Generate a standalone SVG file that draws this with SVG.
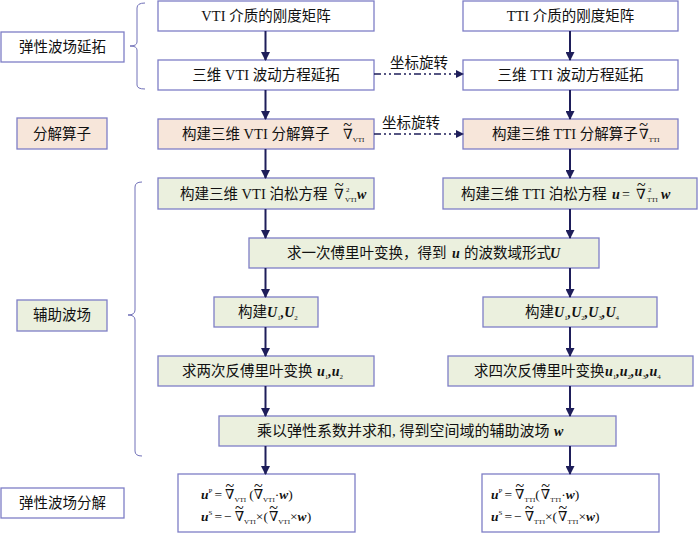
<svg xmlns="http://www.w3.org/2000/svg" width="700" height="534" viewBox="0 0 700 534">
<defs>
<marker id="ah" markerUnits="userSpaceOnUse" markerWidth="9" markerHeight="9" refX="8" refY="4.5" orient="auto"><path d="M0,0 L9,4.5 L0,9 z" fill="#1E1E5A"/></marker>
<marker id="ahs" markerUnits="userSpaceOnUse" markerWidth="8" markerHeight="8" refX="7" refY="4" orient="auto"><path d="M0,0 L8,4 L0,8 z" fill="#1E1E5A"/></marker>
<style>
.b{stroke:#7E7EC6;stroke-width:1.3}
.w{fill:#FFFFFF}
.g{fill:#EBF0DE}
.p{fill:#F7E6DA}
.t{font-family:"Liberation Serif","Noto Sans CJK SC",serif;font-size:14.5px;fill:#111}
.m{font-family:"Liberation Serif","DejaVu Serif",serif;font-size:14px;fill:#111}
.f{font-family:"Liberation Serif","DejaVu Serif",serif;font-size:13.5px;fill:#111}
.bi{font-weight:bold;font-style:italic}
.s{font-size:7px;font-weight:normal;font-style:normal}
.tl{font-family:"Liberation Serif",serif;font-size:16px;font-weight:normal;font-style:normal}
.c{fill:none;stroke:#1E1E5A;stroke-width:2}
.d{fill:none;stroke:#1E1E5A;stroke-width:1.6;stroke-dasharray:7 3 2 3 2 3}
.br{fill:none;stroke:#7070B8;stroke-width:1}
</style>
</defs>
<rect width="700" height="534" fill="#FFFFFF"/>

<g id="braces">
<path class="br" d="M145,3 Q137,3 137,8 L137,42 Q137,46 130,46 Q137,46 137,50 L137,85 Q137,89 145,89"/>
<path class="br" d="M142,182 Q135,182 135,187 L135,310 Q135,315 128,315 Q135,315 135,320 L135,451 Q135,456 142,456"/>
</g>

<g id="label-extension"><rect class="b w" x="1" y="32" width="123" height="30"/><text class="t" x="62.5" y="52" text-anchor="middle">弹性波场延拓</text></g>
<g id="label-operator"><rect class="b p" x="17" y="118" width="90" height="31"/><text class="t" x="62" y="139" text-anchor="middle">分解算子</text></g>
<g id="label-aux"><rect class="b g" x="17" y="300" width="90" height="31"/><text class="t" x="62" y="320" text-anchor="middle">辅助波场</text></g>
<g id="label-decomp"><rect class="b w" x="1" y="488" width="123" height="30"/><text class="t" x="62.5" y="508" text-anchor="middle">弹性波场分解</text></g>

<g id="vti-stiffness"><rect class="b w" x="158" y="1" width="216" height="30"/><text class="t" x="266" y="21" text-anchor="middle">VTI 介质的刚度矩阵</text></g>
<g id="tti-stiffness"><rect class="b w" x="463" y="1" width="215" height="30"/><text class="t" x="570.5" y="21" text-anchor="middle">TTI 介质的刚度矩阵</text></g>
<g id="vti-wave"><rect class="b w" x="158" y="60" width="216" height="30"/><text class="t" x="266" y="80" text-anchor="middle">三维 VTI 波动方程延拓</text></g>
<g id="tti-wave"><rect class="b w" x="463" y="60" width="215" height="30"/><text class="t" x="570.5" y="80" text-anchor="middle">三维 TTI 波动方程延拓</text></g>

<g id="vti-operator"><rect class="b p" x="158" y="119" width="216" height="30"/>
<text class="t" x="182" y="139">构建三维 VTI 分解算子</text>
<text class="m" x="343" y="139">∇<tspan class="tl" dx="-9.5" dy="-9">~</tspan><tspan class="s" dx="0.84" dy="12">VTI</tspan></text></g>
<g id="tti-operator"><rect class="b p" x="463" y="119" width="215" height="30"/>
<text class="t" x="492" y="139">构建三维 TTI 分解算子</text>
<text class="m" x="639" y="139">∇<tspan class="tl" dx="-9.5" dy="-9">~</tspan><tspan class="s" dx="0.84" dy="12">TTI</tspan></text></g>

<g id="vti-poisson"><rect class="b g" x="158" y="178" width="216" height="31"/>
<text class="t" x="180" y="199">构建三维 VTI 泊松方程</text>
<text class="m" x="334" y="199">∇<tspan class="tl" x="335" dy="-9">~</tspan><tspan class="s" x="346" dy="2">2</tspan><tspan class="s" x="345" dy="10">VTI</tspan><tspan class="bi" x="357" dy="-3">w</tspan></text></g>
<g id="tti-poisson"><rect class="b g" x="443" y="178" width="254" height="31"/>
<text class="t" x="461" y="199">构建三维 TTI 泊松方程</text>
<text class="m" x="612" y="199"><tspan class="bi">u</tspan><tspan x="622">=</tspan><tspan x="636">∇</tspan><tspan class="tl" x="637" dy="-9">~</tspan><tspan class="s" x="648" dy="2">2</tspan><tspan class="s" x="647" dy="10">TTI</tspan><tspan class="bi" x="661" dy="-3">w</tspan></text></g>

<g id="fourier"><rect class="b g" x="249" y="238" width="350" height="30"/>
<text class="t" x="287" y="258">求一次傅里叶变换，得到</text><text class="m bi" x="452" y="258">u</text><text class="t" x="464" y="258">的波数域形式</text><text class="m bi" x="550" y="258">U</text></g>

<g id="vti-u"><rect class="b g" x="214" y="297" width="104" height="30"/>
<text class="t" x="238" y="317">构建</text>
<text class="m bi" x="267" y="317">U<tspan class="s" dy="3">1</tspan><tspan dy="-3">,</tspan>U<tspan class="s" dy="3">2</tspan></text></g>
<g id="tti-u"><rect class="b g" x="483" y="297" width="174" height="30"/>
<text class="t" x="525" y="317">构建</text>
<text class="m bi" x="554" y="317">U<tspan class="s" dy="3">1</tspan><tspan dy="-3">,</tspan>U<tspan class="s" dy="3">2</tspan><tspan dy="-3">,</tspan>U<tspan class="s" dy="3">3</tspan><tspan dy="-3">,</tspan>U<tspan class="s" dy="3">4</tspan></text></g>

<g id="vti-inverse"><rect class="b g" x="158" y="356" width="216" height="30"/>
<text class="t" x="182" y="376">求两次反傅里叶变换</text>
<text class="m bi" x="317" y="376">u<tspan class="s" dy="3">1</tspan><tspan dy="-3">,</tspan>u<tspan class="s" dy="3">2</tspan></text></g>
<g id="tti-inverse"><rect class="b g" x="448" y="356" width="245" height="30"/>
<text class="t" x="474" y="376">求四次反傅里叶变换</text>
<text class="m bi" x="605" y="376">u<tspan class="s" dy="3">1</tspan><tspan dy="-3">,</tspan>u<tspan class="s" dy="3">2</tspan><tspan dy="-3">,</tspan>u<tspan class="s" dy="3">3</tspan><tspan dy="-3">,</tspan>u<tspan class="s" dy="3">4</tspan></text></g>

<g id="aux-field"><rect class="b g" x="219" y="416" width="397" height="30"/>
<text class="t" x="257" y="436" style="font-size:15px">乘以弹性系数并求和, 得到空间域的辅助波场</text><text class="m bi" x="554" y="436">w</text></g>

<g id="vti-decomp"><rect class="b w" x="178" y="474" width="177" height="58"/>
<text class="f" x="201" y="499"><tspan class="bi">u</tspan><tspan class="s" dy="-6">P</tspan><tspan dy="6" dx="2">=</tspan><tspan dx="3">∇</tspan><tspan class="tl" dx="-9" dy="-8.5">~</tspan><tspan class="s" dx="0.34" dy="11">VTI</tspan><tspan dy="-2.5" dx="3">(∇</tspan><tspan class="tl" dx="-9" dy="-8.5">~</tspan><tspan class="s" dx="0.34" dy="11">VTI</tspan><tspan dy="-2.5">·</tspan><tspan class="bi">w</tspan>)</text>
<text class="f" x="201" y="521"><tspan class="bi">u</tspan><tspan class="s" dy="-6">S</tspan><tspan dy="6" dx="2">=</tspan><tspan dx="2">−</tspan><tspan dx="3">∇</tspan><tspan class="tl" dx="-9" dy="-8.5">~</tspan><tspan class="s" dx="0.34" dy="11">VTI</tspan><tspan dy="-2.5">×(</tspan><tspan dx="1">∇</tspan><tspan class="tl" dx="-9" dy="-8.5">~</tspan><tspan class="s" dx="0.34" dy="11">VTI</tspan><tspan dy="-2.5">×</tspan><tspan class="bi">w</tspan>)</text></g>

<g id="tti-decomp"><rect class="b w" x="482" y="474" width="177" height="58"/>
<text class="f" x="491" y="499"><tspan class="bi">u</tspan><tspan class="s" dy="-6">P</tspan><tspan dy="6" dx="2">=</tspan><tspan dx="3">∇</tspan><tspan class="tl" dx="-9" dy="-8.5">~</tspan><tspan class="s" dx="0.34" dy="11">TTI</tspan><tspan dy="-2.5">(</tspan><tspan dx="1">∇</tspan><tspan class="tl" dx="-9" dy="-8.5">~</tspan><tspan class="s" dx="0.34" dy="11">TTI</tspan><tspan dy="-2.5">·</tspan><tspan class="bi">w</tspan>)</text>
<text class="f" x="491" y="521"><tspan class="bi">u</tspan><tspan class="s" dy="-6">S</tspan><tspan dy="6" dx="2">=</tspan><tspan dx="2">−</tspan><tspan dx="3">∇</tspan><tspan class="tl" dx="-9" dy="-8.5">~</tspan><tspan class="s" dx="0.34" dy="11">TTI</tspan><tspan dy="-2.5">×(</tspan><tspan dx="1">∇</tspan><tspan class="tl" dx="-9" dy="-8.5">~</tspan><tspan class="s" dx="0.34" dy="11">TTI</tspan><tspan dy="-2.5">×</tspan><tspan class="bi">w</tspan>)</text></g>

<g id="connectors">
<line class="c" x1="265.5" y1="31" x2="265.5" y2="60" marker-end="url(#ah)"/>
<line class="c" x1="265.5" y1="90" x2="265.5" y2="119" marker-end="url(#ah)"/>
<line class="c" x1="265.5" y1="149" x2="265.5" y2="178" marker-end="url(#ah)"/>
<line class="c" x1="265.5" y1="209" x2="265.5" y2="238" marker-end="url(#ah)"/>
<line class="c" x1="265.5" y1="268" x2="265.5" y2="297" marker-end="url(#ah)"/>
<line class="c" x1="265.5" y1="327" x2="265.5" y2="356" marker-end="url(#ah)"/>
<line class="c" x1="265.5" y1="386" x2="265.5" y2="416" marker-end="url(#ah)"/>
<line class="c" x1="265.5" y1="446" x2="265.5" y2="474" marker-end="url(#ah)"/>
<line class="c" x1="570" y1="31" x2="570" y2="60" marker-end="url(#ah)"/>
<line class="c" x1="570" y1="90" x2="570" y2="119" marker-end="url(#ah)"/>
<line class="c" x1="570" y1="149" x2="570" y2="178" marker-end="url(#ah)"/>
<line class="c" x1="570" y1="209" x2="570" y2="238" marker-end="url(#ah)"/>
<line class="c" x1="570" y1="268" x2="570" y2="297" marker-end="url(#ah)"/>
<line class="c" x1="570" y1="327" x2="570" y2="356" marker-end="url(#ah)"/>
<line class="c" x1="570" y1="386" x2="570" y2="416" marker-end="url(#ah)"/>
<line class="c" x1="570" y1="446" x2="570" y2="474" marker-end="url(#ah)"/>
<line class="d" x1="374" y1="74" x2="463" y2="74" marker-end="url(#ahs)"/>
<text class="t" x="419" y="68" text-anchor="middle">坐标旋转</text>
<line class="d" x1="374" y1="134" x2="463" y2="134" marker-end="url(#ahs)"/>
<text class="t" x="411" y="128" text-anchor="middle">坐标旋转</text>
</g>
</svg>
